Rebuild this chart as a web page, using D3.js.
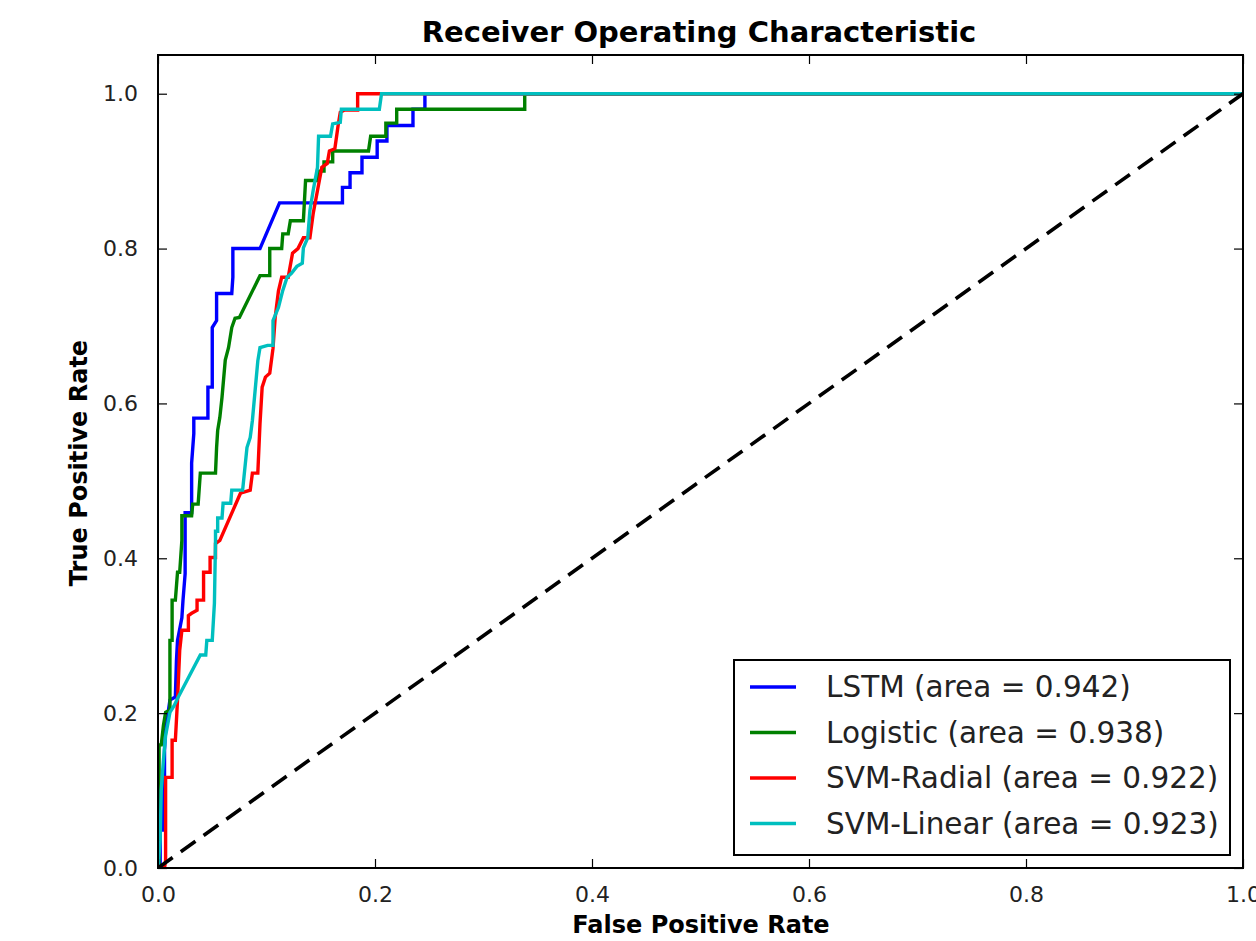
<!DOCTYPE html>
<html>
<head>
<meta charset="utf-8">
<script src="https://cdn.jsdelivr.net/npm/d3@7"></script>
<style>
  body { margin: 0; background: #fff; }
  text { font-family: "DejaVu Sans", sans-serif; }
</style>
</head>
<body>
<svg id="chart"></svg>
<script>
// ROC curves, [false positive rate, true positive rate]
const lstm = [[0,0],[0.002,0],[0.002,0.049],[0.004,0.049],[0.004,0.101],[0.006,0.101],[0.006,0.152],
  [0.007,0.178],[0.011,0.217],[0.016,0.221],[0.017,0.268],[0.018,0.294],[0.022,0.323],[0.023,0.345],
  [0.025,0.380],[0.025,0.459],[0.031,0.459],[0.031,0.523],[0.033,0.561],[0.033,0.581],[0.046,0.581],
  [0.046,0.621],[0.050,0.621],[0.050,0.698],[0.054,0.707],[0.054,0.742],[0.068,0.742],[0.069,0.763],
  [0.069,0.800],[0.094,0.800],[0.112,0.859],[0.170,0.859],[0.170,0.879],[0.177,0.879],[0.177,0.898],
  [0.188,0.898],[0.188,0.918],[0.202,0.918],[0.202,0.939],[0.211,0.939],[0.211,0.959],[0.235,0.959],
  [0.235,0.980],[0.246,0.980],[0.246,1],[1,1]];

const logistic = [[0,0],[0.001,0],[0.001,0.159],[0.003,0.159],[0.005,0.184],[0.007,0.201],[0.011,0.204],
  [0.011,0.294],[0.013,0.294],[0.013,0.346],[0.016,0.346],[0.018,0.382],[0.020,0.382],[0.022,0.423],
  [0.022,0.455],[0.031,0.455],[0.032,0.470],[0.037,0.470],[0.039,0.510],[0.053,0.510],[0.054,0.543],
  [0.055,0.565],[0.057,0.582],[0.059,0.608],[0.062,0.656],[0.065,0.672],[0.068,0.698],[0.071,0.710],
  [0.075,0.711],[0.094,0.765],[0.103,0.765],[0.103,0.800],[0.114,0.800],[0.115,0.819],[0.120,0.819],
  [0.122,0.836],[0.134,0.836],[0.136,0.888],[0.147,0.888],[0.147,0.900],[0.153,0.900],[0.153,0.912],
  [0.161,0.912],[0.161,0.926],[0.194,0.926],[0.196,0.945],[0.210,0.945],[0.210,0.962],[0.220,0.962],
  [0.220,0.980],[0.338,0.980],[0.338,1],[1,1]];

const svmRadial = [[0,0],[0.006,0],[0.007,0.010],[0.007,0.117],[0.013,0.117],[0.013,0.165],[0.016,0.165],
  [0.018,0.217],[0.020,0.281],[0.022,0.307],[0.028,0.307],[0.028,0.326],[0.031,0.329],[0.036,0.333],
  [0.036,0.346],[0.042,0.346],[0.042,0.382],[0.048,0.382],[0.048,0.401],[0.053,0.401],[0.053,0.419],
  [0.057,0.423],[0.076,0.484],[0.085,0.488],[0.087,0.510],[0.092,0.510],[0.094,0.574],[0.096,0.621],
  [0.099,0.634],[0.103,0.639],[0.106,0.671],[0.108,0.711],[0.111,0.745],[0.114,0.763],[0.120,0.763],
  [0.124,0.794],[0.129,0.800],[0.134,0.814],[0.140,0.814],[0.143,0.845],[0.147,0.875],[0.151,0.905],
  [0.156,0.910],[0.158,0.926],[0.163,0.929],[0.166,0.959],[0.168,0.976],[0.172,0.979],[0.184,0.979],
  [0.184,1],[1,1]];

const svmLinear = [[0,0],[0.002,0.036],[0.003,0.101],[0.005,0.139],[0.007,0.171],[0.011,0.201],[0.015,0.210],
  [0.018,0.219],[0.039,0.275],[0.044,0.275],[0.045,0.294],[0.050,0.294],[0.052,0.342],[0.053,0.423],
  [0.053,0.435],[0.055,0.435],[0.055,0.452],[0.059,0.452],[0.060,0.471],[0.067,0.471],[0.068,0.488],
  [0.078,0.488],[0.082,0.543],[0.085,0.556],[0.087,0.578],[0.092,0.655],[0.094,0.672],[0.101,0.675],
  [0.106,0.675],[0.106,0.707],[0.111,0.724],[0.115,0.746],[0.119,0.763],[0.123,0.768],[0.128,0.777],
  [0.133,0.781],[0.134,0.801],[0.138,0.814],[0.140,0.849],[0.143,0.875],[0.147,0.905],[0.148,0.945],
  [0.159,0.945],[0.161,0.961],[0.168,0.963],[0.169,0.980],[0.204,0.980],[0.206,1],[1,1]];

const chance = [[0,0],[1,1]];

const labels = ["LSTM (area = 0.942)", "Logistic (area = 0.938)", "SVM-Radial (area = 0.922)", "SVM-Linear (area = 0.923)"];
const colors = ["#0000ff", "#008000", "#ff0000", "#00bfbf"];
const ticks = [0, 0.2, 0.4, 0.6, 0.8, 1.0];

const W = 1256, H = 941;
const margin = { top: 55, right: 13, bottom: 73, left: 158 };
const width = W - margin.left - margin.right;
const height = H - margin.top - margin.bottom;

const root = d3.select("#chart").attr("width", W).attr("height", H);
root.append("rect").attr("width", W).attr("height", H).attr("fill", "#fff");

const svg = root.append("g").attr("transform", `translate(${margin.left},${margin.top})`);

const x = d3.scaleLinear().domain([0, 1]).range([0, width]);
const y = d3.scaleLinear().domain([0, 1.05]).range([height, 0]);

const line = d3.line().x(d => x(d[0])).y(d => y(d[1]));

svg.append("clipPath").attr("id", "clip")
  .append("rect").attr("width", width).attr("height", height);

const plot = svg.append("g").attr("clip-path", "url(#clip)");

[lstm, logistic, svmRadial, svmLinear].forEach((s, i) => {
  plot.append("path")
    .datum(s)
    .attr("d", line)
    .attr("fill", "none")
    .attr("stroke", colors[i])
    .attr("stroke-width", 3.4);
});

plot.append("path")
  .datum(chance)
  .attr("d", line)
  .attr("fill", "none")
  .attr("stroke", "#000")
  .attr("stroke-width", 3.6)
  .attr("stroke-dasharray", "18,10");

// inward ticks on all four sides
const tickLen = 9;
const fmt = d3.format(".1f");
svg.append("g")
  .attr("transform", `translate(0,${height})`)
  .call(d3.axisBottom(x).tickValues(ticks).tickFormat(fmt).tickSizeInner(-tickLen).tickSizeOuter(0).tickPadding(18))
  .call(g => g.select(".domain").remove())
  .call(g => g.selectAll("text").attr("font-size", 22).attr("fill", "#222").attr("font-family", "DejaVu Sans"));
svg.append("g")
  .call(d3.axisTop(x).tickValues(ticks).tickFormat("").tickSizeInner(-tickLen).tickSizeOuter(0))
  .call(g => g.select(".domain").remove());
svg.append("g")
  .call(d3.axisLeft(y).tickValues(ticks).tickFormat(fmt).tickSizeInner(-tickLen).tickSizeOuter(0).tickPadding(20))
  .call(g => g.select(".domain").remove())
  .call(g => g.selectAll("text").attr("font-size", 22).attr("fill", "#222").attr("font-family", "DejaVu Sans"));
svg.append("g")
  .attr("transform", `translate(${width},0)`)
  .call(d3.axisRight(y).tickValues(ticks).tickFormat("").tickSizeInner(-tickLen).tickSizeOuter(0))
  .call(g => g.select(".domain").remove());

svg.selectAll(".tick line").attr("stroke", "#000").attr("stroke-width", 1.2);

svg.append("rect")
  .attr("width", width).attr("height", height)
  .attr("fill", "none").attr("stroke", "#000").attr("stroke-width", 2);

// title and axis labels
root.append("text")
  .attr("x", 699).attr("y", 42)
  .attr("text-anchor", "middle")
  .attr("font-size", 29).attr("font-weight", "bold")
  .text("Receiver Operating Characteristic");

root.append("text")
  .attr("x", 701).attr("y", 933)
  .attr("text-anchor", "middle")
  .attr("font-size", 24).attr("font-weight", "bold")
  .text("False Positive Rate");

root.append("text")
  .attr("transform", `translate(87,463) rotate(-90)`)
  .attr("text-anchor", "middle")
  .attr("font-size", 24).attr("font-weight", "bold")
  .text("True Positive Rate");

// legend
const legend = svg.append("g").attr("transform", `translate(${734 - margin.left},${660 - margin.top})`);
legend.append("rect")
  .attr("width", 496).attr("height", 195)
  .attr("fill", "#fff").attr("stroke", "#000").attr("stroke-width", 2);

labels.forEach((lab, i) => {
  const ly = 27 + i * 45.5;
  legend.append("line")
    .attr("x1", 16).attr("x2", 62).attr("y1", ly).attr("y2", ly)
    .attr("stroke", colors[i]).attr("stroke-width", 3.6);
  legend.append("text")
    .attr("x", 92).attr("y", ly).attr("dy", "0.35em")
    .attr("font-size", 29.5).attr("fill", "#222")
    .text(lab);
});
</script>
</body>
</html>
